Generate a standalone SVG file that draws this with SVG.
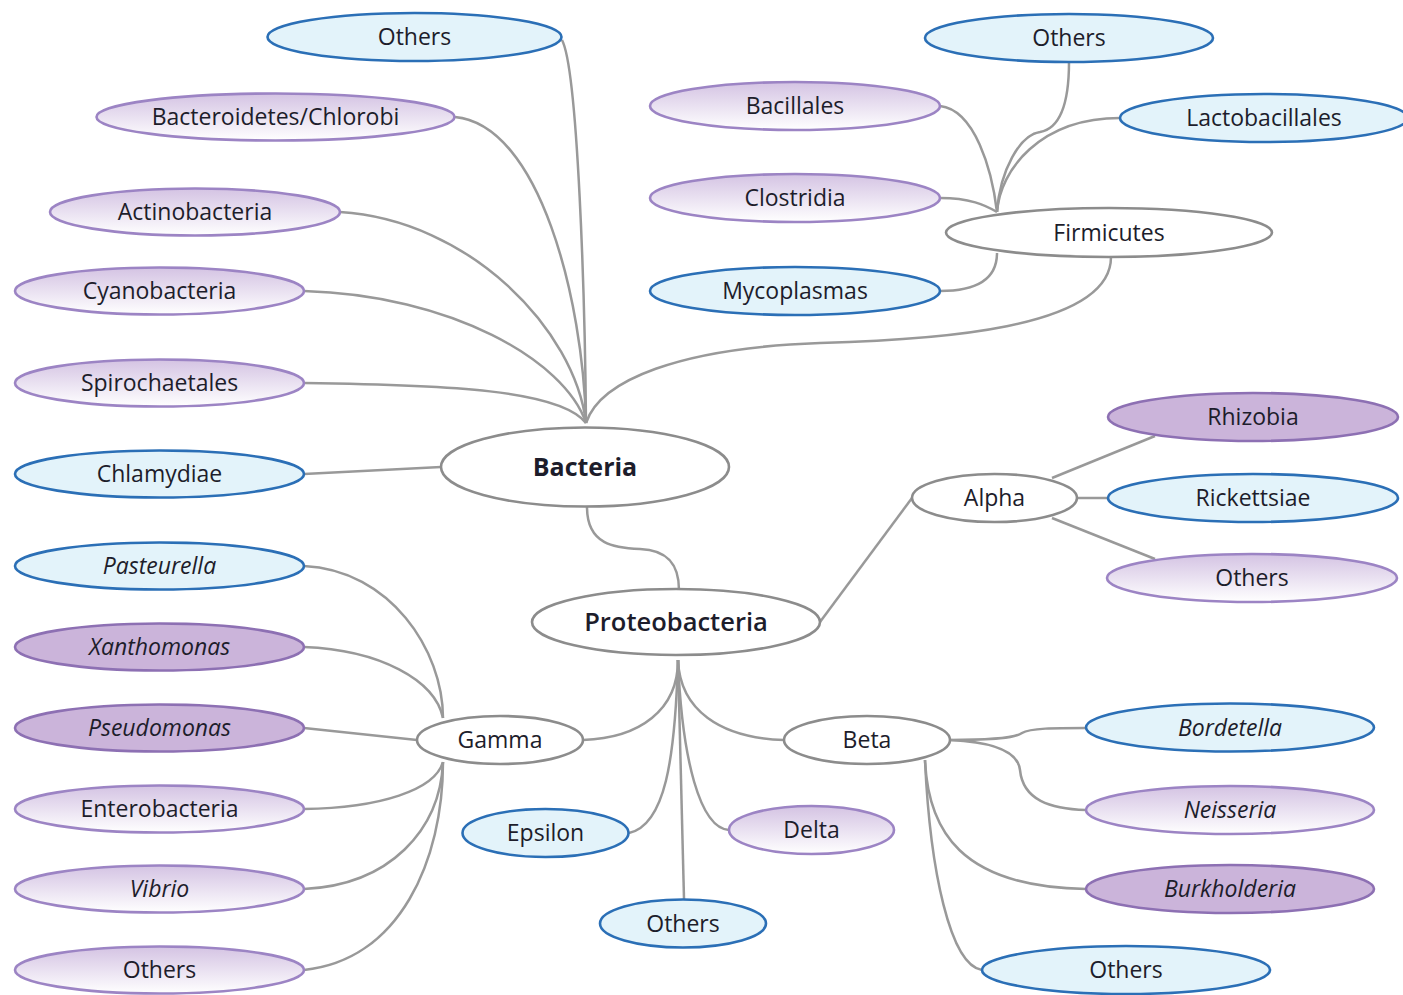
<svg xmlns="http://www.w3.org/2000/svg" width="1403" height="995" viewBox="0 0 1403 995">
<defs>
<linearGradient id="pg" x1="0" y1="0" x2="0" y2="1">
<stop offset="0" stop-color="#d4c3e3"/>
<stop offset="1" stop-color="#ffffff"/>
</linearGradient>
<style>
.c{fill:none;stroke:#999999;stroke-width:2.5}
.blue{fill:#e3f3fa;stroke:#2b6fb6;stroke-width:2.6}
.grad{fill:url(#pg);stroke:#9c84c4;stroke-width:2.6}
.solid{fill:#cbb4da;stroke:#8d70b3;stroke-width:2.6}
.white{fill:#ffffff;stroke:#8c8c8c;stroke-width:2.6}
text{font-family:"Open Sans","Liberation Sans",sans-serif;font-size:23px;fill:#1d1d2b;text-anchor:middle}
.it{font-style:italic}
.bold{font-weight:700;font-size:25px}
.semi{font-weight:600;font-size:25.5px}
</style>
</defs>
<rect width="1403" height="995" fill="#ffffff"/>
<g id="connectors">
<path class="c" d="M562,40 C578,70 585,300 586,423"/>
<path class="c" d="M455,117 C540,125 583,300 586,423"/>
<path class="c" d="M340,212 C470,220 575,330 586,423"/>
<path class="c" d="M304,291 C450,295 565,360 586,423"/>
<path class="c" d="M304,383 C450,385 560,390 586,423"/>
<path class="c" d="M1111,257 C1111,330 930,340 820,343 C680,348 600,380 586,423"/>
<path class="c" d="M304,474 L441,467"/>
<path class="c" d="M587,507 C587,545 615,548 640,549 C668,550 679,565 679,590"/>
<path class="c" d="M940,106 C975,110 992,170 997,212"/>
<path class="c" d="M1069,62 C1069,100 1062,128 1040,132 C1020,135 1000,170 997,212"/>
<path class="c" d="M1120,118 C1040,118 1000,170 997,212"/>
<path class="c" d="M940,198 C970,198 985,205 997,212"/>
<path class="c" d="M997,253 C997,280 975,291 940,291"/>
<path class="c" d="M820,622 L912,498"/>
<path class="c" d="M1052,478 L1155,436"/>
<path class="c" d="M1077,498 L1108,498"/>
<path class="c" d="M1052,518 L1155,559"/>
<path class="c" d="M678,660 C678,710 640,738 583,740"/>
<path class="c" d="M678,660 C680,710 720,738 784,740"/>
<path class="c" d="M678,660 C675,760 665,825 629,833"/>
<path class="c" d="M678,660 C682,760 700,828 729,830"/>
<path class="c" d="M678,660 L684,899"/>
<path class="c" d="M304,566 C390,570 443,650 443,718"/>
<path class="c" d="M304,647 C380,650 435,680 443,718"/>
<path class="c" d="M304,728 L417,740"/>
<path class="c" d="M304,809 C380,808 435,790 443,762"/>
<path class="c" d="M304,889 C390,885 440,830 443,762"/>
<path class="c" d="M304,970 C400,960 443,860 443,762"/>
<path class="c" d="M950,740 C995,740 1015,738 1022,733 C1030,728 1055,728 1086,728"/>
<path class="c" d="M950,740 C995,742 1018,752 1020,770 C1023,800 1050,809 1086,810"/>
<path class="c" d="M925,760 C928,830 960,887 1086,889"/>
<path class="c" d="M925,760 C930,870 950,965 982,970"/>
</g>
<g id="n-others-tl"><ellipse class="blue" cx="414.5" cy="37" rx="147" ry="24"/><text x="414.5" y="45">Others</text></g>
<g id="n-bacteroidetes"><ellipse class="grad" cx="275.5" cy="117" rx="179" ry="23.5"/><text x="275.5" y="125">Bacteroidetes/Chlorobi</text></g>
<g id="n-actinobacteria"><ellipse class="grad" cx="195" cy="212" rx="145" ry="23.5"/><text x="195" y="220">Actinobacteria</text></g>
<g id="n-cyanobacteria"><ellipse class="grad" cx="159.5" cy="291" rx="144.5" ry="23.5"/><text x="159.5" y="299">Cyanobacteria</text></g>
<g id="n-spirochaetales"><ellipse class="grad" cx="159.5" cy="383" rx="144.5" ry="23.5"/><text x="159.5" y="391">Spirochaetales</text></g>
<g id="n-chlamydiae"><ellipse class="blue" cx="159.5" cy="474" rx="144.5" ry="23.5"/><text x="159.5" y="482">Chlamydiae</text></g>
<g id="n-bacteria"><ellipse class="white" cx="585" cy="467" rx="144" ry="39.5"/><text class="bold" x="585" y="476">Bacteria</text></g>
<g id="n-others-tr"><ellipse class="blue" cx="1069" cy="38" rx="144" ry="24"/><text x="1069" y="46">Others</text></g>
<g id="n-bacillales"><ellipse class="grad" cx="795" cy="106" rx="145" ry="24"/><text x="795" y="114">Bacillales</text></g>
<g id="n-lactobacillales"><ellipse class="blue" cx="1264" cy="118" rx="144" ry="24"/><text x="1264" y="126">Lactobacillales</text></g>
<g id="n-clostridia"><ellipse class="grad" cx="795" cy="198" rx="145" ry="24"/><text x="795" y="206">Clostridia</text></g>
<g id="n-firmicutes"><ellipse class="white" cx="1109" cy="232.5" rx="163" ry="24.5"/><text x="1109" y="240.5">Firmicutes</text></g>
<g id="n-mycoplasmas"><ellipse class="blue" cx="795" cy="291" rx="145" ry="24"/><text x="795" y="299">Mycoplasmas</text></g>
<g id="n-proteobacteria"><ellipse class="white" cx="676" cy="622" rx="144" ry="33"/><text class="semi" x="676" y="631">Proteobacteria</text></g>
<g id="n-alpha"><ellipse class="white" cx="994.5" cy="498" rx="82.5" ry="24"/><text x="994.5" y="506">Alpha</text></g>
<g id="n-rhizobia"><ellipse class="solid" cx="1253" cy="417" rx="145" ry="24"/><text x="1253" y="425">Rhizobia</text></g>
<g id="n-rickettsiae"><ellipse class="blue" cx="1253" cy="498" rx="145" ry="24"/><text x="1253" y="506">Rickettsiae</text></g>
<g id="n-others-alpha"><ellipse class="grad" cx="1252" cy="578" rx="145" ry="24"/><text x="1252" y="586">Others</text></g>
<g id="n-pasteurella"><ellipse class="blue" cx="159.5" cy="566" rx="144.5" ry="23.5"/><text class="it" x="159.5" y="574">Pasteurella</text></g>
<g id="n-xanthomonas"><ellipse class="solid" cx="159.5" cy="647" rx="144.5" ry="23.5"/><text class="it" x="159.5" y="655">Xanthomonas</text></g>
<g id="n-pseudomonas"><ellipse class="solid" cx="159.5" cy="728" rx="144.5" ry="23.5"/><text class="it" x="159.5" y="736">Pseudomonas</text></g>
<g id="n-enterobacteria"><ellipse class="grad" cx="159.5" cy="809" rx="144.5" ry="23.5"/><text x="159.5" y="817">Enterobacteria</text></g>
<g id="n-vibrio"><ellipse class="grad" cx="159.5" cy="889" rx="144.5" ry="23.5"/><text class="it" x="159.5" y="897">Vibrio</text></g>
<g id="n-others-gamma"><ellipse class="grad" cx="159.5" cy="970" rx="144.5" ry="23.5"/><text x="159.5" y="978">Others</text></g>
<g id="n-gamma"><ellipse class="white" cx="500" cy="740" rx="83" ry="24"/><text x="500" y="748">Gamma</text></g>
<g id="n-beta"><ellipse class="white" cx="867" cy="740" rx="83" ry="24"/><text x="867" y="748">Beta</text></g>
<g id="n-epsilon"><ellipse class="blue" cx="545.5" cy="833" rx="83" ry="24"/><text x="545.5" y="841">Epsilon</text></g>
<g id="n-delta"><ellipse class="grad" cx="811.5" cy="830" rx="82.5" ry="24"/><text x="811.5" y="838">Delta</text></g>
<g id="n-others-proteo"><ellipse class="blue" cx="683" cy="923.5" rx="83" ry="24"/><text x="683" y="931.5">Others</text></g>
<g id="n-bordetella"><ellipse class="blue" cx="1230" cy="727.5" rx="144" ry="24"/><text class="it" x="1230" y="735.5">Bordetella</text></g>
<g id="n-neisseria"><ellipse class="grad" cx="1230" cy="810" rx="144" ry="24"/><text class="it" x="1230" y="818">Neisseria</text></g>
<g id="n-burkholderia"><ellipse class="solid" cx="1230" cy="889" rx="144" ry="24"/><text class="it" x="1230" y="897">Burkholderia</text></g>
<g id="n-others-beta"><ellipse class="blue" cx="1126" cy="970" rx="144" ry="24"/><text x="1126" y="978">Others</text></g>
</svg>
